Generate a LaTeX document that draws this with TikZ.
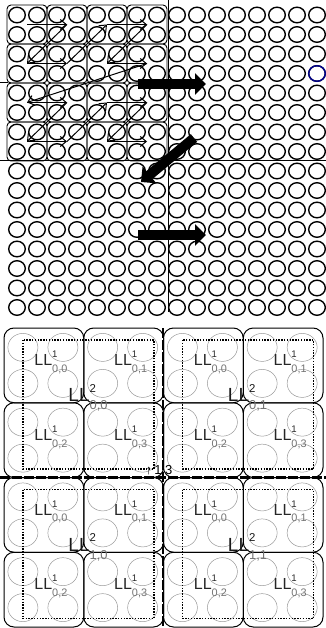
\documentclass[tikz,border=0pt]{standalone}
\usepackage{fontspec}
\setmainfont{Liberation Sans}
\usetikzlibrary{arrows.meta, positioning, calc}

\newcommand{\llab}[2]{LL\rlap{\raisebox{0.5em}{\scalebox{0.6}{#1}}}\raisebox{-0.42em}{\scalebox{0.68}{\textcolor{black!55}{#2}}}}

\begin{document}
\begin{tikzpicture}[
  x=1pt, y=-1pt,
  >=Latex,
  cell/.style={draw, line width=1.4pt},
  blk/.style={draw, rounded corners=4pt, line width=0.9pt},
  zarrow/.style={-{Straight Barb[length=6pt,width=10pt]}, line width=1pt},
  bigarrow/.style={-{Triangle[length=11pt,width=21pt]}, line width=10pt},
  sub/.style={draw, rounded corners=10pt, line width=1pt},
  ghost/.style={draw=black!40, line width=0.5pt},
  grp/.style={draw, line width=1.5pt, dash pattern=on 1.4pt off 1.4pt},
  split/.style={line width=2.5pt, dash pattern=on 10pt off 2pt},
  lone/.style={font=\fontsize{16}{16}\selectfont, text=black!85, inner sep=0pt},
  ltwo/.style={font=\fontsize{19}{19}\selectfont, text=black!90, inner sep=0pt}
]
\useasboundingbox (0,0) rectangle (326,628);

% -------------------------------------------------------------------------
% TOP: 16 x 16 grid of samples
% -------------------------------------------------------------------------
\foreach \i in {0,...,15}
  \foreach \j in {0,...,15}
    \draw[cell] ({17+20*\i},{15+19.5*\j}) ellipse [x radius=8.3pt, y radius=7.8pt];
\draw[cell, draw=blue!55!black] ({17+20*15},{15+19.5*3}) ellipse [x radius=8.3pt, y radius=7.8pt];

% blocks of the first quarter, with their centres
\foreach \i in {0,...,3}
  \foreach \j in {0,...,3} {
    \draw[blk] ({7+40*\i},{5+39*\j}) rectangle ++(40,39);
    \coordinate (b\i\j) at ({27+40*\i},{24.5+39*\j});
  }

% quarter lines
\coordinate (vtop) at (168,0);
\coordinate (vbot) at (168,312);
\coordinate (hleft) at (0,160);
\coordinate (hright) at (326,160);
\coordinate (tleft) at (0,82);
\coordinate (tright) at (8,82);
\draw[line width=0.9pt] (vtop) -- (vbot);
\draw[line width=0.9pt] (hleft) -- (hright);
\draw[line width=0.9pt] (tleft) -- (tright);

% z-order scan
\foreach \a/\b in {00/10, 10/01, 01/11, 11/20, 20/30, 30/21, 21/31, 31/02,
                   02/12, 12/03, 03/13, 13/22, 22/32, 32/23, 23/33}
  \draw[zarrow] (b\a) -- (b\b);

% big arrows
\coordinate (r1s) at (138,84);  \coordinate (r1e) at (206,84);
\coordinate (d1s) at (194,138); \coordinate (d1e) at (141,182);
\coordinate (r2s) at (138,235); \coordinate (r2e) at (206,235);
\draw[bigarrow] (r1s) -- (r1e);
\draw[bigarrow] (d1s) -- (d1e);
\draw[bigarrow] (r2s) -- (r2e);

% -------------------------------------------------------------------------
% BOTTOM: level 1 and level 2 blocks
% -------------------------------------------------------------------------
\foreach \gr in {0,1}
  \foreach \gc in {0,1} {
    \pgfmathsetmacro{\gx}{4+159.5*\gc}
    \pgfmathsetmacro{\gy}{328+149.5*\gr}
    \foreach \k in {0,...,3} {
      \pgfmathsetmacro{\bx}{\gx+79.75*mod(\k,2)}
      \pgfmathsetmacro{\by}{\gy+74.75*int(\k/2)}
      \draw[sub] (\bx,\by) rectangle ++(79.75,74.75);
      \coordinate (c\gr\gc\k) at ({\bx+39.9},{\by+37.4});
      \foreach \dx/\dy in {-21/-18, 19/-18, -21/18, 19/18}
        \draw[ghost] ($(c\gr\gc\k)+(\dx,\dy)$) ellipse [x radius=15pt, y radius=14pt];
      \node[lone] (l\gr\gc\k) at ($(c\gr\gc\k)+(7,-3)$) {\llab{1}{0,\k}};
    }
    \draw[grp] ({\gx+19},{\gy+12}) rectangle ({\gx+150},{\gy+141});
    \node[ltwo] (m\gr\gc) at ({\gx+84},{\gy+70}) {\llab{2}{\gr,\gc}};
  }

% level 2 split lines
\node[font=\fontsize{13}{13}\selectfont, inner sep=0pt] (tag) at (159,471) {↑\,1,3};
\coordinate (stop) at (163,328);
\coordinate (sbot) at (163,628);
\coordinate (sleft) at (0,477.5);
\coordinate (sright) at (326,477.5);
\draw[split] (stop) -- (sbot);
\draw[split] (sleft) -- (sright);
\end{tikzpicture}
\end{document}
